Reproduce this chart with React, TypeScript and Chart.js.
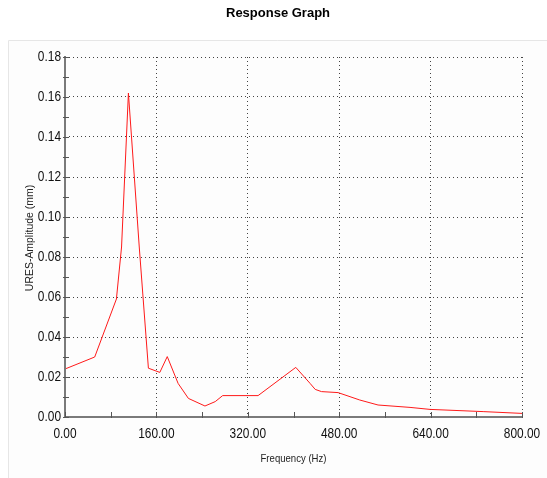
import React, { useEffect, useRef } from "react";
import { Chart, registerables } from "chart.js";

Chart.register(...registerables);

const frequencies = [0, 52, 90, 99, 111, 130, 146, 166, 179, 198, 216, 245, 263, 276, 338, 404, 429, 438, 449, 478, 516, 548, 604, 639, 732, 800];
const amplitudes = [0.024, 0.03, 0.059, 0.085, 0.162, 0.085, 0.0244, 0.0223, 0.0302, 0.0168, 0.0093, 0.0055, 0.0077, 0.0107, 0.0107, 0.0248, 0.0168, 0.0138, 0.0127, 0.0122, 0.0085, 0.006, 0.0048, 0.0038, 0.0027, 0.0018];
const xTicks = [0, 160, 320, 480, 640, 800];
const yTicks = [0, 0.02, 0.04, 0.06, 0.08, 0.1, 0.12, 0.14, 0.16, 0.18];
const titleText = "Response Graph";
const xTitle = "Frequency (Hz)";
const yTitle = "URES-Amplitude (mm)";

const FONT = "'Liberation Sans', Arial, sans-serif";

function narrowText(ctx: any, text: string, x: number, y: number, sx: number, align: string) {
  ctx.save();
  ctx.translate(x, y);
  ctx.scale(sx, 1);
  ctx.textAlign = align;
  ctx.fillText(text, 0, 0);
  ctx.restore();
}

const decor = {
  id: "decor",
  beforeDraw(chart: any) {
    const ctx = chart.ctx;
    ctx.save();
    ctx.fillStyle = "#ffffff";
    ctx.fillRect(0, 0, chart.width, chart.height);
    ctx.fillStyle = "#fdfdfd";
    ctx.fillRect(8.5, 40.5, chart.width, chart.height);
    ctx.strokeStyle = "#e6e6e6";
    ctx.lineWidth = 1;
    ctx.beginPath();
    ctx.moveTo(8.5, chart.height);
    ctx.lineTo(8.5, 40.5);
    ctx.lineTo(chart.width, 40.5);
    ctx.stroke();
    ctx.restore();
  },
  afterDraw(chart: any) {
    const ctx = chart.ctx;
    const xs = chart.scales.x;
    const ys = chart.scales.y;
    const a = chart.chartArea;
    ctx.save();
    // axes
    ctx.strokeStyle = "#7a7a7a";
    ctx.lineWidth = 2;
    ctx.beginPath();
    ctx.moveTo(a.left, a.top - 1);
    ctx.lineTo(a.left, a.bottom);
    ctx.lineTo(a.right + 1, a.bottom);
    ctx.stroke();
    // y ticks (major + minor)
    ctx.lineWidth = 1;
    ctx.strokeStyle = "#555";
    for (let v = 0; v <= 0.1801; v += 0.01) {
      const y = Math.round(ys.getPixelForValue(v)) + 0.5;
      ctx.beginPath();
      ctx.moveTo(a.left - 2, y);
      ctx.lineTo(a.left + 4, y);
      ctx.stroke();
    }
    // x ticks
    for (let v = 0; v <= 800; v += 80) {
      const x = Math.round(xs.getPixelForValue(v)) + 0.5;
      ctx.beginPath();
      ctx.moveTo(x, a.bottom + 1);
      ctx.lineTo(x, a.bottom - 5);
      ctx.stroke();
    }
    // tick labels
    ctx.fillStyle = "#111";
    ctx.font = "14px " + FONT;
    ctx.textBaseline = "middle";
    yTicks.forEach((v) => {
      narrowText(ctx, v.toFixed(2), a.left - 4, ys.getPixelForValue(v) + 0.5, 0.85, "right");
    });
    xTicks.forEach((v) => {
      narrowText(ctx, v.toFixed(2), xs.getPixelForValue(v), a.bottom + 17, 0.85, "center");
    });
    // titles
    ctx.fillStyle = "#000";
    ctx.font = "bold 13px " + FONT;
    ctx.textAlign = "center";
    ctx.fillText(titleText, 278, 13);
    ctx.fillStyle = "#222";
    ctx.font = "11px " + FONT;
    narrowText(ctx, xTitle, (a.left + a.right) / 2, 459, 0.87, "center");
    ctx.translate(30, 238);
    ctx.rotate(-Math.PI / 2);
    narrowText(ctx, yTitle, 0, 0, 0.95, "center");
    ctx.restore();
  },
};

export default function App() {
  const ref = useRef<HTMLCanvasElement>(null);
  useEffect(() => {
    document.body.style.margin = "0";
    const chart = new Chart(ref.current!, {
      type: "line",
      data: {
        datasets: [
          {
            data: frequencies.map((f, i) => ({ x: f, y: amplitudes[i] })),
            borderColor: "#ff1a1a",
            borderWidth: 1,
            pointRadius: 0,
            tension: 0,
            fill: false,
          },
        ],
      },
      options: {
        animation: false,
        responsive: false,
        maintainAspectRatio: false,
        layout: { padding: { left: 0, right: 25, top: 57, bottom: 0 } },
        plugins: { legend: { display: false }, title: { display: false }, tooltip: { enabled: false } },
        scales: {
          x: {
            type: "linear",
            min: 0,
            max: 800,
            afterFit: (s: any) => { s.height = 61; },
            afterBuildTicks: (s: any) => { s.ticks = xTicks.map((v) => ({ value: v })); },
            border: { display: false, dash: [1, 3] },
            grid: { color: "#444", lineWidth: 1, drawTicks: false },
            ticks: { display: false },
          },
          y: {
            type: "linear",
            min: 0,
            max: 0.18,
            afterFit: (s: any) => { s.width = 65; },
            afterBuildTicks: (s: any) => { s.ticks = yTicks.map((v) => ({ value: v })); },
            border: { display: false, dash: [1, 3] },
            grid: { color: "#444", lineWidth: 1, drawTicks: false },
            ticks: { display: false },
          },
        },
      },
      plugins: [decor],
    } as any);
    return () => chart.destroy();
  }, []);
  return <canvas ref={ref} width={547} height={478} style={{ display: "block", width: 547, height: 478 }} />;
}
